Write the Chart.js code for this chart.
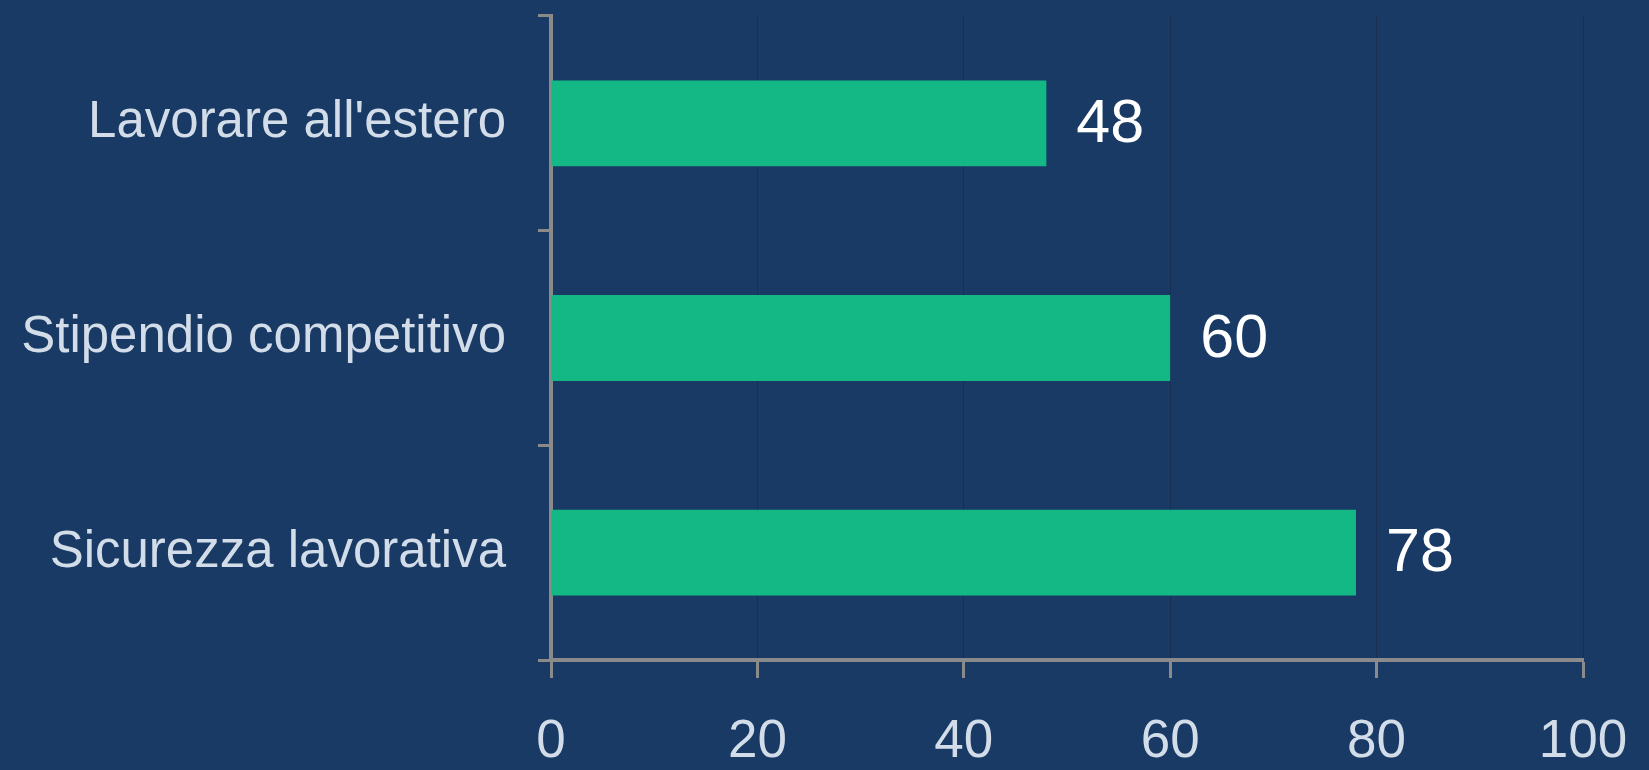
<!DOCTYPE html>
<html>
<head>
<meta charset="utf-8">
<script src="https://cdn.jsdelivr.net/npm/chart.js@4/dist/chart.umd.min.js"></script>
<style>
  html, body { margin: 0; padding: 0; background: #183a64; }
  #wrap { width: 1649px; height: 770px; position: relative; }
</style>
</head>
<body>
<div id="wrap"><canvas id="c" width="1649" height="770"></canvas></div>
<script>
const categories = ["Lavorare all'estero", "Stipendio competitivo", "Sicurezza lavorativa"];
const values = [48, 60, 78];
const xTicks = [0, 20, 40, 60, 80, 100];

const BG = '#183a64';
const BAR = '#13b884';
const AXIS = '#8a8a8a';
const TXT = '#d3dde9';
const FONT = "'Liberation Sans', Arial, sans-serif";

const valueLabels = {
  id: 'valueLabels',
  afterDatasetsDraw(chart) {
    const ctx = chart.ctx;
    const meta = chart.getDatasetMeta(0);
    ctx.save();
    ctx.fillStyle = '#ffffff';
    ctx.font = '61px ' + FONT;
    ctx.textAlign = 'left';
    ctx.textBaseline = 'middle';
    meta.data.forEach((bar, i) => {
      ctx.fillText(String(values[i]), bar.x + 30, bar.y + 2);
    });
    ctx.restore();
  }
};

const bgPlugin = {
  id: 'bg',
  beforeDraw(chart) {
    const ctx = chart.ctx;
    ctx.save();
    ctx.fillStyle = BG;
    ctx.fillRect(0, 0, chart.width, chart.height);
    ctx.restore();
  }
};

new Chart(document.getElementById('c'), {
  type: 'bar',
  data: {
    labels: categories,
    datasets: [{
      data: values,
      backgroundColor: BAR,
      borderWidth: 0,
      barPercentage: 0.4,
      categoryPercentage: 1.0
    }]
  },
  options: {
    indexAxis: 'y',
    responsive: false,
    animation: false,
    layout: { padding: { left: 0, right: 66, top: 16, bottom: 0 } },
    plugins: { legend: { display: false }, tooltip: { enabled: false } },
    scales: {
      x: {
        min: 0, max: 100,
        afterBuildTicks(axis) { axis.ticks = xTicks.map(v => ({ value: v })); },
        border: { display: true, color: AXIS, width: 4 },
        grid: {
          display: true,
          color: 'rgba(20,30,50,0.35)',
          lineWidth: 1,
          drawTicks: true,
          tickLength: 18,
          tickColor: AXIS,
          tickWidth: 3
        },
        ticks: {
          color: TXT,
          font: { family: FONT, size: 53 },
          padding: 33,
          maxRotation: 0
        },
        afterFit(axis) { axis.height = 110; axis.paddingLeft = 0; axis.paddingRight = 0; }
      },
      y: {
        offset: true,
        border: { display: true, color: AXIS, width: 4 },
        grid: {
          offset: true,
          drawOnChartArea: false,
          drawTicks: true,
          tickLength: 13,
          tickColor: AXIS,
          tickWidth: 3
        },
        ticks: {
          color: TXT,
          font: { family: FONT, size: 51 },
          padding: 32
        },
        afterFit(axis) { axis.width = 551; axis.paddingTop = 0; axis.paddingBottom = 0; }
      }
    }
  },
  plugins: [bgPlugin, valueLabels]
});
</script>
</body>
</html>
